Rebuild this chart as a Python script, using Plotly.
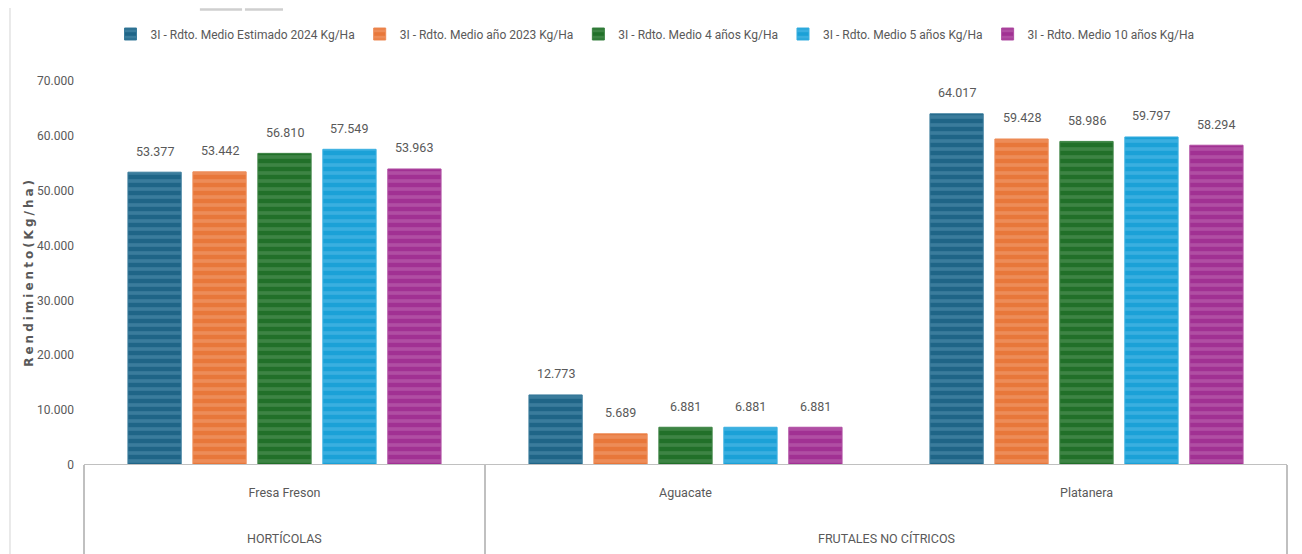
import plotly.graph_objects as go

categories = ["Fresa Freson", "Aguacate", "Platanera"]
groups = ["HORTÍCOLAS", "FRUTALES NO CÍTRICOS"]
group_members = [["Fresa Freson"], ["Aguacate", "Platanera"]]

series_names = [
    "3I - Rdto. Medio Estimado 2024 Kg/Ha",
    "3I - Rdto. Medio año 2023 Kg/Ha",
    "3I - Rdto. Medio 4 años Kg/Ha",
    "3I - Rdto. Medio 5 años Kg/Ha",
    "3I - Rdto. Medio 10 años Kg/Ha",
]
est_2024 = [53377, 12773, 64017]
medio_2023 = [53442, 5689, 59428]
medio_4 = [56810, 6881, 58986]
medio_5 = [57549, 6881, 59797]
medio_10 = [53963, 6881, 58294]
series_values = [est_2024, medio_2023, medio_4, medio_5, medio_10]

y_ticks = [0, 10000, 20000, 30000, 40000, 50000, 60000, 70000]

base_colors = ["#1f6587", "#e8773a", "#217029", "#1ba1d7", "#a13193"]
stripe_colors = ["#3a7c9c", "#ed8c58", "#3d8444", "#3aafe0", "#b04ea3"]

FONT = "Roboto, Liberation Sans, sans-serif"
GREY = "#595959"
BARGAP = 0.19

fig = go.Figure()
for name, vals, c, s in zip(series_names, series_values, base_colors, stripe_colors):
    fig.add_trace(go.Bar(
        name=name, x=categories, y=vals,
        marker=dict(color=c, line=dict(color=s, width=1),
                    pattern=dict(shape="-", fgcolor=s, bgcolor=c, fgopacity=1,
                                 size=8, solidity=0.45, fillmode="replace")),
        cliponaxis=False,
    ))

shapes = []
line = dict(color="#c0c0c0", width=2)
shapes.append(dict(type="line", xref="x", yref="y", x0=-0.5, x1=2.5, y0=0, y1=0, line=line))
for xv in [-0.5, 0.5, 2.5]:
    shapes.append(dict(type="line", xref="x", yref="paper", x0=xv, x1=xv, y0=0, y1=-0.25, line=line))
border = dict(color="#e3e3e3", width=1.5)
shapes.append(dict(type="line", xref="paper", yref="paper", x0=-0.0606, x1=-0.0606, y0=-0.25, y1=1.19, line=border))
shapes.append(dict(type="line", xref="paper", yref="paper", x0=1.009, x1=1.009, y0=-0.25, y1=1.185, line=border))
top_grey = dict(color="#cfcfcf", width=2.5)
shapes.append(dict(type="line", xref="paper", yref="paper", x0=0.097, x1=0.132, y0=1.186, y1=1.186, line=top_grey))
shapes.append(dict(type="line", xref="paper", yref="paper", x0=0.1344, x1=0.166, y0=1.186, y1=1.186, line=top_grey))

annotations = []
n = len(series_values)
slot = (1 - BARGAP) / n
for j, vals in enumerate(series_values):
    for i, v in enumerate(vals):
        annotations.append(dict(
            text=f"{v:,}".replace(",", "."), x=i + (j - (n - 1) / 2) * slot, xref="x",
            y=v, yref="y", yanchor="middle", yshift=21, showarrow=False,
            font=dict(family=FONT, size=12.5, color=GREY)))

centers = {c: i for i, c in enumerate(categories)}
for g, members in zip(groups, group_members):
    pos = sum(centers[m] for m in members) / len(members)
    annotations.append(dict(text=g, x=pos, xref="x", y=-0.1927, yref="paper", yanchor="middle",
                            showarrow=False, font=dict(family=FONT, size=12.5, color=GREY)))
sp = "\u2005"
annotations.append(dict(text=sp.join("Rendimiento(Kg/ha)"),
                        x=-0.045, xref="paper", y=0.50, yref="paper",
                        textangle=-90, showarrow=False, xanchor="center", yanchor="middle",
                        font=dict(family="DejaVu Sans", size=12, color=GREY, weight="bold")))

fig.update_layout(
    width=1294, height=546,
    margin=dict(l=75, r=14, t=73, b=89, autoexpand=False),
    paper_bgcolor="white", plot_bgcolor="white",
    separators=",.",
    barmode="group", bargap=BARGAP, bargroupgap=0.18,
    showlegend=True,
    legend=dict(orientation="h", x=0.5, xanchor="center", xref="container",
                y=1 - 26 / 546, yanchor="middle", yref="container",
                font=dict(family=FONT, size=12, color=GREY)),
    xaxis=dict(type="category", showline=False, showgrid=False, ticks="", automargin=False,
               ticklabelstandoff=18, tickfont=dict(family=FONT, size=12.5, color=GREY)),
    yaxis=dict(range=[0, 70000], tickvals=y_ticks, tickformat=",.0f", automargin=False,
               showgrid=False, zeroline=False, showline=False,
               tickfont=dict(family=FONT, size=12, color=GREY), ticklabelstandoff=8),
    shapes=shapes, annotations=annotations,
    font=dict(family=FONT, color=GREY),
)

fig.write_html("out.html")
